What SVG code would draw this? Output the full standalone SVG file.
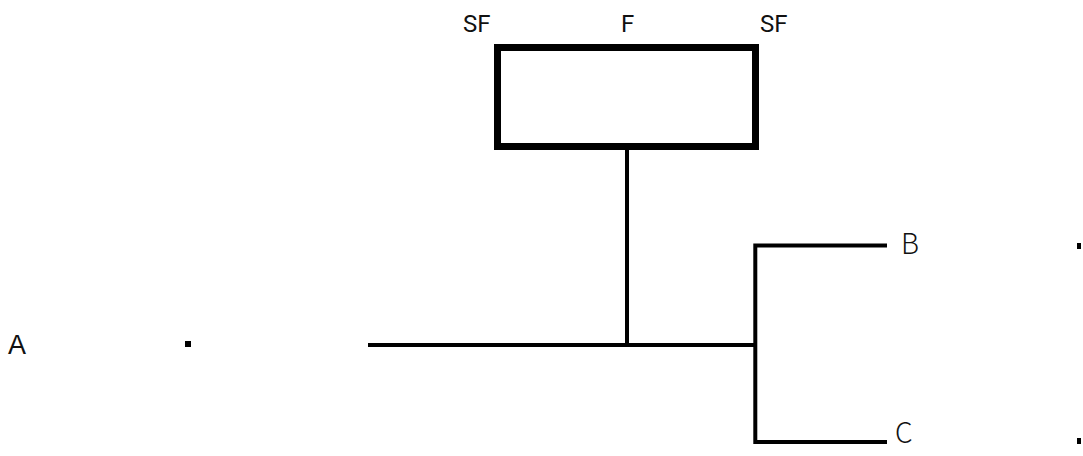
<svg xmlns="http://www.w3.org/2000/svg" width="1083" height="456" viewBox="0 0 1083 456">
<style>
.lbl{font-family:Roboto,"Liberation Sans",sans-serif;font-size:24px;fill:#111}
.reg{font-family:"Liberation Sans",Arial,sans-serif;font-size:27px;fill:#111}
.thin{font-family:"Noto Sans CJK KR","Noto Sans",sans-serif;font-weight:300;font-size:28px;fill:#111}
.wire{stroke:#000;stroke-width:4;fill:none}
.dot{fill:#000}
</style>
<rect width="1083" height="456" fill="#fff"/>
<g id="box">
<rect x="497.5" y="47.5" width="258" height="99" fill="#fff" stroke="#000" stroke-width="7"/>
<text class="lbl" x="463" y="31.5">SF</text>
<text class="lbl" x="621" y="31.5">F</text>
<text class="lbl" x="760" y="31.5">SF</text>
</g>
<g id="connectors">
<path class="wire" d="M627 150V345"/>
<path class="wire" d="M368 345H757"/>
<path class="wire" d="M887 245.5H755.3V442H887"/>
</g>
<g id="A">
<text class="reg" x="8" y="354">A</text>
<rect class="dot" x="185" y="341" width="6" height="6"/>
</g>
<g id="B">
<text class="thin" x="901" y="254">B</text>
<rect class="dot" x="1077" y="243" width="4" height="6"/>
</g>
<g id="C">
<text class="thin" x="895" y="443">C</text>
<rect class="dot" x="1077" y="438" width="4" height="6"/>
</g>
</svg>
